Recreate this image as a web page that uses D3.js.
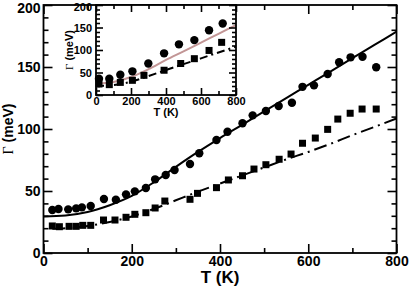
<!DOCTYPE html>
<html>
<head>
<meta charset="utf-8">
<script src="https://cdn.jsdelivr.net/npm/d3@7"></script>
<style>
  body { margin: 0; background: #fff; }
  svg { display: block; }
  text { font-family: "Liberation Sans", Arial, sans-serif; font-weight: bold; fill: #000; }
</style>
</head>
<body>
<svg id="chart" width="409" height="286"></svg>
<script>
// main panel data (T in K, Gamma in meV)
var circleT = [20,34,56,74,87,107,137,164,187,207,232,253,277,297,332,353,392,417,451,474,504,533,563,587,613,644,670,696,723,754];
var circleG = [34.7,35.5,35.2,36,36.8,37.9,43.5,43,47.3,49.7,52.4,59.4,62.9,66.9,71.8,80.4,91.1,97.8,104.6,111,114.5,118.5,121.2,134,135.2,144.4,153.8,157.8,158.3,149.8];
var squareT = [20,36,58,74,89,107,136,162,187,207,232,253,275,332,349,392,419,451,477,504,534,561,587,616,644,667,695,722,754];
var squareG = [21.8,21.2,21.5,21.5,22.3,22.3,26.6,26.6,28.8,31.2,32.5,36.3,41.9,43.3,48.1,52.7,58.9,62.3,67.7,71.2,75.6,79.8,88.5,92.7,99.7,108,112.7,116.1,116.1];
var solidT = [0,50,100,150,200,250,300,350,400,450,500,550,600,650,700,750,800];
var solidG = [29.5,30.3,33,38.5,46,57,69.5,81.5,92.7,103.4,114.2,124.9,135.6,146.3,157.1,167.8,178.5];
var dashT = [20,50,100,150,200,250,300,350,400,450,500,550,600,650,700,750,800];
var dashG = [19.5,20,21.8,25,29.5,35.5,42.5,49.5,56,62.5,69,75.5,81.5,88,95,101.7,108.5];

// inset data
var inCircleT = [17,76,139,208,299,389,474,562,646,724];
var inCircleG = [36,36,45,52.6,70,92.6,112.6,122,144,159];
var inSquareT = [17,76,139,208,274,389,484,562,646,718];
var inSquareG = [24.4,23,28,32.6,43.7,55,70,80.7,99,117];
var pinkT = [0,100,200,300,400,500,600,700,800];
var pinkG = [25.5,29,40,57.5,78,97,116.5,136,155.5];
var inDashT = [0,100,200,300,400,500,600,700,800];
var inDashG = [20,22,29.5,42,55.5,68.5,81.5,94.5,107.5];

var xMajor = [0,200,400,600,800];
var xMinor = [100,300,500,700];
var yMajor = [0,50,100,150,200];
var yMinor = d3.range(10,200,10).filter(function(v) { return v % 50 != 0; });

var svg = d3.select("#chart");

function zip(a, b) { return a.map(function(v, i) { return [v, b[i]]; }); }

// ticks on all 4 sides, pointing inward
function frameTicks(g, x, y, major, minor, fs, padX, padY) {
  var x0 = x.range()[0], x1 = x.range()[1], y0 = y.range()[0], y1 = y.range()[1];
  var sides = [
    [d3.axisBottom, x, y0, true, xMajor, xMinor, padX],
    [d3.axisTop, x, y1, false, xMajor, xMinor, 0],
    [d3.axisLeft, y, x0, true, yMajor, yMinor, padY],
    [d3.axisRight, y, x1, false, yMajor, yMinor, 0]
  ];
  sides.forEach(function(s) {
    var vertical = (s[0] == d3.axisLeft || s[0] == d3.axisRight);
    var tr = vertical ? "translate(" + s[2] + ",0)" : "translate(0," + s[2] + ")";
    var maj = g.append("g").attr("transform", tr)
      .call(s[0](s[1]).tickValues(s[4]).tickSize(-major).tickPadding(s[6])
        .tickFormat(s[3] ? d3.format("d") : ""));
    var mnr = g.append("g").attr("transform", tr)
      .call(s[0](s[1]).tickValues(s[5]).tickSize(-minor).tickFormat(""));
    [maj, mnr].forEach(function(a) {
      a.select(".domain").remove();
      a.selectAll("line").attr("stroke", "#000").attr("stroke-width", 1.6);
      a.selectAll("text").attr("font-size", fs).attr("font-family", null);
    });
    if (vertical && s[3]) {
      // top label sits on the frame edge, nudge it down so it stays inside the page
      maj.selectAll(".tick").filter(function(d) { return d == 200; })
        .select("text").attr("dy", "0.5em");
    }
  });
  g.append("rect").attr("x", x0).attr("y", y1).attr("width", x1 - x0).attr("height", y0 - y1)
    .attr("fill", "none").attr("stroke", "#000").attr("stroke-width", 1.8);
}

function drawLine(g, x, y, data, color, dash) {
  g.append("path").datum(data)
    .attr("fill", "none").attr("stroke", color).attr("stroke-width", 2)
    .attr("stroke-dasharray", dash)
    .attr("d", d3.line().x(function(d) { return x(d[0]); }).y(function(d) { return y(d[1]); })
      .curve(d3.curveMonotoneX));
}

function drawMarkers(g, x, y, circles, squares, r, s) {
  g.selectAll(null).data(circles).enter().append("circle")
    .attr("cx", function(d) { return x(d[0]); })
    .attr("cy", function(d) { return y(d[1]); })
    .attr("r", r).attr("fill", "#000");
  g.selectAll(null).data(squares).enter().append("rect")
    .attr("x", function(d) { return x(d[0]) - s / 2; })
    .attr("y", function(d) { return y(d[1]) - s / 2; })
    .attr("width", s).attr("height", s).attr("fill", "#000");
}

function yLabel(g, cx, cy, fs) {
  var t = g.append("text").attr("transform", "translate(" + cx + "," + cy + ") rotate(-90)")
    .attr("text-anchor", "middle").attr("font-size", fs);
  t.append("tspan").text("Γ").attr("font-family", "'Liberation Serif', 'DejaVu Serif', serif")
    .attr("font-weight", "normal");
  t.append("tspan").text(" (meV)");
}

// main panel
var x = d3.scaleLinear().domain([0, 800]).range([43.5, 396.5]);
var y = d3.scaleLinear().domain([0, 200]).range([253, 5]);
var main = svg.append("g");

drawLine(main, x, y, zip(solidT, solidG), "#000", null);
drawLine(main, x, y, zip(dashT, dashG), "#000", "13,5,2,5");
drawMarkers(main, x, y, zip(circleT, circleG), zip(squareT, squareG), 4.2, 7);
frameTicks(main, x, y, 9, 5, 14, 3, 3);

main.append("text").attr("x", 220).attr("y", 283).attr("text-anchor", "middle")
  .attr("font-size", 17).text("T (K)");
yLabel(main, 13, 129, 14);

// inset
var ix = d3.scaleLinear().domain([0, 800]).range([96, 236]);
var iy = d3.scaleLinear().domain([0, 200]).range([95, 5]);
var inset = svg.append("g");
inset.append("rect").attr("x", 96).attr("y", 5).attr("width", 140).attr("height", 90).attr("fill", "#fff");

drawLine(inset, ix, iy, zip(pinkT, pinkG), "#c29595", null);
drawLine(inset, ix, iy, zip(inDashT, inDashG), "#000", "8,4,2,4");
drawMarkers(inset, ix, iy, zip(inCircleT, inCircleG), zip(inSquareT, inSquareG), 4.2, 7);
frameTicks(inset, ix, iy, 7, 4, 11, 2, 4);

inset.append("text").attr("x", 166).attr("y", 116).attr("text-anchor", "middle")
  .attr("font-size", 11).text("T (K)");
yLabel(inset, 73, 50, 11);
</script>
</body>
</html>
